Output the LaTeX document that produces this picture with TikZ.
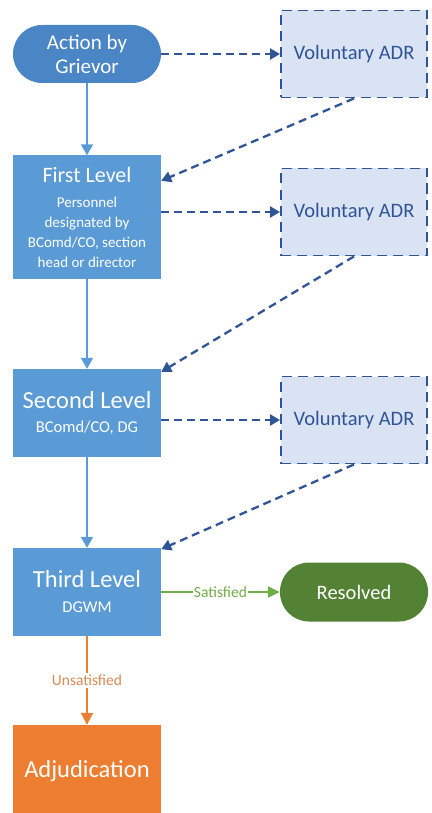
\documentclass[tikz,border=0pt]{standalone}
\usepackage{fontspec}
\setmainfont{Carlito}
\usetikzlibrary{arrows.meta}

\definecolor{lvlblue}{HTML}{5B9BD5}
\definecolor{actblue}{HTML}{4A86C6}
\definecolor{adrfill}{HTML}{DAE3F3}
\definecolor{adrline}{HTML}{2F5597}
\definecolor{resgreen}{HTML}{548235}
\definecolor{satgreen}{HTML}{70AD47}
\definecolor{adjorange}{HTML}{ED7D31}
\definecolor{unsatorange}{HTML}{D98A55}

\begin{document}
\begin{tikzpicture}[x=1pt, y=-1pt,
    lvl/.style={rectangle, fill=lvlblue, text=white, minimum width=148pt, inner sep=0pt, align=center},
    startbox/.style={rectangle, rounded corners=29pt, fill=actblue, text=white, minimum width=148pt, minimum height=58pt, inner sep=0pt, align=center, font=\fontsize{21}{24}\selectfont},
    adr/.style={rectangle, draw=adrline, dash pattern=on 10pt off 6pt, line width=1.9pt, fill=adrfill, text=adrline, minimum width=146pt, minimum height=87pt, font=\fontsize{20.5}{24}\selectfont},
    flow/.style={draw=lvlblue, line width=2pt, -{Triangle[length=11pt, width=12pt]}},
    toadr/.style={draw=adrline, line width=2.3pt, dash pattern=on 8pt off 5pt, -{Triangle[length=10pt, width=11pt]}}
]

    % Fix the frame of the picture
    \useasboundingbox (0,0) rectangle (431,813);

    % Left column: the levels
    \node[startbox] (act) at (87,54) {Action by\\Grievor};
    \node[lvl, minimum height=123pt, font=\fontsize{15}{20}\selectfont] (first) at (87,217)
        {{\fontsize{22}{24}\selectfont First Level}\\[5pt] Personnel\\ designated by\\ BComd/CO, section\\ head or director};
    \node[lvl, minimum height=88pt, font=\fontsize{16.5}{20}\selectfont] (second) at (87,413)
        {{\fontsize{24.5}{26}\selectfont Second Level}\\[4pt] BComd/CO, DG};
    \node[lvl, minimum height=88pt, font=\fontsize{16.5}{20}\selectfont] (third) at (87,592)
        {{\fontsize{24.5}{26}\selectfont Third Level}\\[5pt] DGWM};
    \node[lvl, fill=adjorange, minimum height=92pt, font=\fontsize{24.5}{28}\selectfont] (adj) at (87,771) {Adjudication};

    % Right column: voluntary ADR and the outcome
    \node[adr] (adr1) at (354,54) {Voluntary ADR};
    \node[adr] (adr2) at (354,212) {Voluntary ADR};
    \node[adr] (adr3) at (354,420) {Voluntary ADR};
    \node[startbox, fill=resgreen, minimum height=59pt, font=\fontsize{20.5}{24}\selectfont] (res) at (354,592) {Resolved};

    % Main flow down the levels
    \draw[flow] (act) -- (first);
    \draw[flow] (first) -- (second);
    \draw[flow] (second) -- (third);

    % Dashed arrows out to ADR and back
    \draw[toadr] (act.east) -- (adr1.west);
    \draw[toadr] (adr2.west -| first.east) -- (adr2.west);
    \draw[toadr] (adr3.west -| second.east) -- (adr3.west);
    \draw[toadr] (adr1.south) -- (first.26);
    \draw[toadr] (adr2.south) -- (second.29);
    \draw[toadr] (adr3.south) -- (third.30);

    % Outcomes of the third level
    \draw[draw=satgreen, line width=2pt, -{Triangle[length=12pt, width=11pt]}] (third) -- (res)
        node[midway, fill=white, inner sep=1pt, text=satgreen, font=\fontsize{15.5}{18}\selectfont] (sat) {Satisfied};
    \draw[draw=adjorange, line width=2pt, -{Triangle[length=12pt, width=12pt]}] (third) -- (adj)
        node[midway, fill=white, inner sep=2pt, text=unsatorange, font=\fontsize{15.5}{18}\selectfont] (unsat) {Unsatisfied};

\end{tikzpicture}
\end{document}
